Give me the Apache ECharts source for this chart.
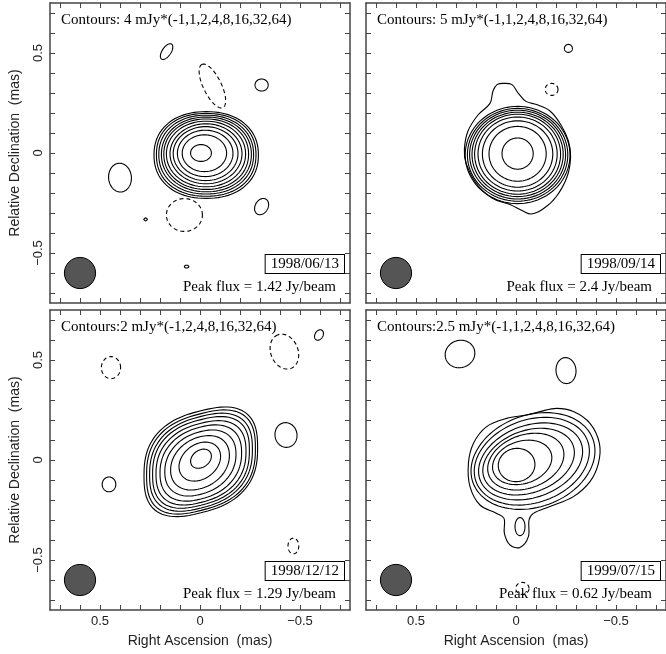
<!DOCTYPE html>
<html><head><meta charset="utf-8">
<script src="https://cdn.jsdelivr.net/npm/echarts@6/dist/echarts.min.js"></script>
<style>html,body{margin:0;padding:0;background:#fff}#c{width:666px;height:654px}</style>
</head><body><div id="c"></div>
<script>
// ---------------- data (mas) ----------------
const panelDates = ['1998/06/13', '1998/09/14', '1998/12/12', '1999/07/15'];
const panelContourText = [
  'Contours: 4 mJy*(-1,1,2,4,8,16,32,64)',
  'Contours: 5 mJy*(-1,1,2,4,8,16,32,64)',
  'Contours:2 mJy*(-1,2,4,8,16,32,64)',
  'Contours:2.5 mJy*(-1,1,2,4,8,16,32,64)'
];
const panelPeak = ['Peak flux = 1.42 Jy/beam', 'Peak flux = 2.4 Jy/beam', 'Peak flux = 1.29 Jy/beam', 'Peak flux = 0.62 Jy/beam'];
const tickValues = [-0.7, -0.6, -0.5, -0.4, -0.3, -0.2, -0.1, 0, 0.1, 0.2, 0.3, 0.4, 0.5, 0.6, 0.7];
const labelValues = [-0.5, 0, 0.5];
const xName = 'Right Ascension  (mas)';
const yName = 'Relative Declination  (mas)';

// contour shapes: [cx, cy, a, b, angleDeg, sign(+1 solid / -1 dashed), exponent, shear]
const p1Contours = [
  [-0.031, -0.010, 0.261, 0.217, 0, 1, 2.2, 0],
  [-0.031, -0.009, 0.249, 0.207, 0, 1, 2.2, 0],
  [-0.031, -0.008, 0.237, 0.197, 0, 1, 2.15, 0],
  [-0.032, -0.007, 0.225, 0.187, 0, 1, 2.1, 0],
  [-0.031, -0.006, 0.212, 0.176, 0, 1, 2.1, 0],
  [-0.030, -0.005, 0.198, 0.164, 0, 1, 2.05, 0],
  [-0.030, -0.004, 0.180, 0.150, 0, 1, 2, 0],
  [-0.028, -0.003, 0.162, 0.135, 0, 1, 2, 0],
  [-0.026, -0.002, 0.139, 0.116, 0, 1, 2, 0],
  [-0.022, -0.001, 0.111, 0.092, 0, 1, 2, 0],
  [-0.005, 0.000, 0.052, 0.042, 0, 1, 2, 0],
  [0.167, 0.507, 0.045, 0.022, 56, 1, 2, 0],
  [-0.308, 0.340, 0.033, 0.030, 0, 1, 2, 0],
  [0.400, -0.123, 0.072, 0.057, 95, 1, 2, 0],
  [-0.308, -0.268, 0.043, 0.032, 60, 1, 2, 0],
  [0.272, -0.332, 0.009, 0.008, 0, 1, 1.2, 0],
  [0.067, -0.568, 0.011, 0.007, 0, 1, 2, 0],
  [-0.062, 0.335, 0.120, 0.045, 116, -1, 2, 0],
  [0.078, -0.310, 0.090, 0.082, 0, -1, 2, 0]
];
const p2Contours = [
  [-0.008, -0.010, 0.262, 0.243, 0, 1, 2, 0],
  [-0.008, -0.009, 0.251, 0.232, 0, 1, 2, 0],
  [-0.008, -0.008, 0.240, 0.222, 0, 1, 2, 0],
  [-0.008, -0.007, 0.228, 0.211, 0, 1, 2, 0],
  [-0.008, -0.006, 0.215, 0.200, 0, 1, 2, 0],
  [-0.008, -0.005, 0.198, 0.185, 0, 1, 2, 0],
  [-0.008, -0.005, 0.176, 0.166, 0, 1, 2, 0],
  [-0.008, -0.004, 0.143, 0.137, 0, 1, 2, 0],
  [-0.008, -0.003, 0.078, 0.078, 0, 1, 2, 0],
  [-0.262, 0.523, 0.020, 0.020, 0, 1, 2, 0],
  [-0.178, 0.318, 0.032, 0.030, 0, -1, 2, 0]
];
const p3Contours = [
  [-0.004, -0.009, 0.284, 0.255, 0, 1, 2.6, 0.25],
  [-0.005, -0.010, 0.272, 0.242, 0, 1, 2.6, 0.25],
  [-0.005, -0.011, 0.257, 0.229, 0, 1, 2.5, 0.25],
  [-0.005, -0.012, 0.242, 0.214, 0, 1, 2.5, 0.25],
  [-0.005, -0.014, 0.225, 0.198, 0, 1, 2.4, 0.25],
  [-0.004, -0.015, 0.204, 0.180, 0, 1, 2.3, 0.25],
  [-0.002, -0.015, 0.178, 0.157, 0, 1, 2.2, 0.25],
  [0.000, -0.014, 0.147, 0.130, 0, 1, 2.1, 0.25],
  [0.001, -0.008, 0.104, 0.094, 0, 1, 2, 0.25],
  [-0.005, 0.0065, 0.052, 0.046, 0, 1, 2, 0.25],
  [0.445, 0.462, 0.048, 0.055, 0, -1, 2, 0],
  [0.455, -0.122, 0.034, 0.037, 0, 1, 2, 0],
  [-0.422, 0.542, 0.090, 0.068, 112, -1, 2, 0],
  [-0.595, 0.625, 0.028, 0.020, 60, 1, 2, 0],
  [-0.430, 0.125, 0.062, 0.055, 100, 1, 2, 0],
  [-0.467, -0.430, 0.039, 0.027, 90, -1, 2, 0]
];
const p4Contours = [
  [-0.085, -0.005, 0.319, 0.230, 20, 1, 2, 0],
  [-0.079, -0.006, 0.297, 0.207, 20, 1, 2, 0],
  [-0.073, -0.007, 0.269, 0.180, 20, 1, 2, 0],
  [-0.063, -0.008, 0.237, 0.155, 20, 1, 2, 0],
  [-0.049, -0.008, 0.197, 0.133, 20, 1, 2, 0],
  [-0.031, -0.012, 0.152, 0.106, 18, 1, 2, 0],
  [-0.003, -0.025, 0.092, 0.083, 10, 1, 2, 0],
  [-0.020, -0.333, 0.045, 0.025, 90, 1, 2, 0],
  [0.280, 0.530, 0.075, 0.068, 20, 1, 2, 0],
  [-0.250, 0.447, 0.065, 0.050, 95, 1, 2, 0],
  [-0.032, -0.642, 0.033, 0.030, 0, -1, 2, 0]
];
// irregular lowest contours traced as point lists [ra, dec]
const p2Outer = [[0.063,0.348],[0.02,0.342],[-0.012,0.298],[-0.05,0.258],[-0.103,0.242],[-0.17,0.21],[-0.225,0.14],[-0.262,0.06],[-0.273,-0.02],[-0.255,-0.12],[-0.2,-0.22],[-0.135,-0.28],[-0.075,-0.305],[-0.035,-0.29],[0.03,-0.258],[0.12,-0.225],[0.2,-0.15],[0.25,-0.05],[0.258,0.02],[0.24,0.11],[0.19,0.19],[0.13,0.248],[0.115,0.31],[0.095,0.342]];
const p4Outer = [[-0.203,0.258],[-0.287,0.242],[-0.37,0.183],[-0.417,0.083],[-0.412,-0.017],[-0.37,-0.108],[-0.287,-0.183],[-0.17,-0.233],[-0.087,-0.267],[-0.065,-0.3],[-0.062,-0.383],[-0.02,-0.437],[0.03,-0.425],[0.058,-0.367],[0.06,-0.292],[0.097,-0.267],[0.18,-0.225],[0.23,-0.133],[0.238,-0.017],[0.213,0.083],[0.147,0.167],[0.047,0.208],[-0.053,0.225],[-0.12,0.242]];
const panelContours = [p1Contours, p2Contours, p3Contours, p4Contours];
const panelOuter = [[], [p2Outer], [], [p4Outer]];
// restoring beam [ra, dec, major, minor]
const beam = [0.6, -0.6, 0.078, 0.078];

// ---------------- chart ----------------
const chart = echarts.init(document.getElementById('c'), null, {renderer: 'canvas'});
const SANS = '"Liberation Sans", Arial, sans-serif';
const SERIF = '"Liberation Serif", "Times New Roman", serif';
const grids = [
  {left: 50, top: 3, width: 300, height: 300},
  {left: 366, top: 3, width: 300, height: 300},
  {left: 50, top: 310, width: 300, height: 300},
  {left: 366, top: 310, width: 300, height: 300}
];
const frameColor = '#444';
function fmt(v) { return v === 0 ? '0' : (v < 0 ? '\u2212' + Math.abs(v) : String(v)); }

const xAxes = [], yAxes = [], series = [], graphics = [];
grids.forEach((g, i) => {
  const bottomRow = i >= 2, leftCol = i % 2 === 0;
  ['bottom', 'top'].forEach(pos => {
    xAxes.push({
      gridIndex: i, type: 'value', min: -0.75, max: 0.75, inverse: true, position: pos,
      axisLine: {show: true, onZero: false, lineStyle: {color: frameColor, width: 1.5}},
      axisTick: {show: true, inside: true, length: 5, customValues: tickValues, lineStyle: {color: frameColor, width: 1}},
      axisLabel: {show: pos === 'bottom' && bottomRow, customValues: labelValues, formatter: fmt, margin: 5,
        fontFamily: SANS, fontSize: 13, color: '#222'},
      splitLine: {show: false},
      name: (pos === 'bottom' && bottomRow) ? xName : '', nameLocation: 'middle', nameGap: 24,
      nameTextStyle: {fontFamily: SANS, fontSize: 14, color: '#222'}
    });
  });
  ['left', 'right'].forEach(pos => {
    yAxes.push({
      gridIndex: i, type: 'value', min: -0.75, max: 0.75, position: pos,
      axisLine: {show: true, onZero: false, lineStyle: {color: frameColor, width: 1.5}},
      axisTick: {show: true, inside: true, length: 5, customValues: tickValues, lineStyle: {color: frameColor, width: 1}},
      axisLabel: {show: pos === 'left' && leftCol, customValues: labelValues, formatter: fmt, rotate: 90, margin: 5,
        fontFamily: SANS, fontSize: 13, color: '#222'},
      splitLine: {show: false},
      name: (pos === 'left' && leftCol) ? yName : '', nameLocation: 'middle', nameGap: 28, nameRotate: 90,
      nameTextStyle: {fontFamily: SANS, fontSize: 14, color: '#222'}
    });
  });

  // contour ellipses
  series.push({
    type: 'custom', xAxisIndex: 2 * i, yAxisIndex: 2 * i, clip: true, silent: true,
    data: panelContours[i],
    renderItem: function (params, api) {
      const cx = api.value(0), cy = api.value(1), a = api.value(2), b = api.value(3);
      const th = api.value(4) * Math.PI / 180, sign = api.value(5), n = api.value(6) || 2, k = api.value(7) || 0;
      const e = 2 / n, pts = [];
      for (let s = 0; s < 96; s++) {
        const t = s / 96 * 2 * Math.PI, ct = Math.cos(t), st = Math.sin(t);
        const u = a * Math.sign(ct) * Math.pow(Math.abs(ct), e);
        let v = b * Math.sign(st) * Math.pow(Math.abs(st), e);
        v += k * u;
        const sx = u * Math.cos(th) - v * Math.sin(th);
        const sy = u * Math.sin(th) + v * Math.cos(th);
        pts.push(api.coord([cx - sx, cy + sy]));
      }
      return {type: 'polygon', shape: {points: pts},
        style: {fill: 'none', stroke: '#000', lineWidth: 1.1, lineDash: sign < 0 ? [4, 3] : null}};
    }
  });
  // traced irregular contours
  if (panelOuter[i].length) {
    series.push({
      type: 'custom', xAxisIndex: 2 * i, yAxisIndex: 2 * i, clip: true, silent: true,
      data: panelOuter[i].map((_, j) => [j]),
      renderItem: function (params, api) {
        const pl = panelOuter[i][api.value(0)];
        return {type: 'polygon', shape: {points: pl.map(p => api.coord(p)), smooth: 0.35},
          style: {fill: 'none', stroke: '#000', lineWidth: 1.1}};
      }
    });
  }
  // beam
  series.push({
    type: 'custom', xAxisIndex: 2 * i, yAxisIndex: 2 * i, clip: true, silent: true,
    data: [beam],
    renderItem: function (params, api) {
      const c = api.coord([api.value(0), api.value(1)]);
      const sz = api.size([api.value(2), api.value(3)]);
      return {type: 'ellipse', shape: {cx: c[0], cy: c[1], rx: sz[0], ry: sz[1]},
        style: {fill: '#555', stroke: '#000', lineWidth: 1}};
    }
  });

  const right = g.left + g.width;
  graphics.push({type: 'text', x: g.left + 11, y: g.top + 17,
    style: {text: panelContourText[i], font: '15px ' + SERIF, fill: '#000', textVerticalAlign: 'middle'}});
  graphics.push({type: 'text', x: right - 6, y: g.top + 261,
    style: {text: panelDates[i], font: '15px ' + SERIF, fill: '#000', textAlign: 'right', textVerticalAlign: 'middle',
      borderColor: '#000', borderWidth: 1, padding: [2, 5, 1, 5], backgroundColor: '#fff'}});
  graphics.push({type: 'text', x: right - 14, y: g.top + 284,
    style: {text: panelPeak[i], font: '15px ' + SERIF, fill: '#000', textAlign: 'right', textVerticalAlign: 'middle'}});
});

chart.setOption({
  animation: false,
  backgroundColor: '#fff',
  grid: grids.map(g => Object.assign({containLabel: false}, g)),
  xAxis: xAxes, yAxis: yAxes, series: series, graphic: graphics
});
</script></body></html>
